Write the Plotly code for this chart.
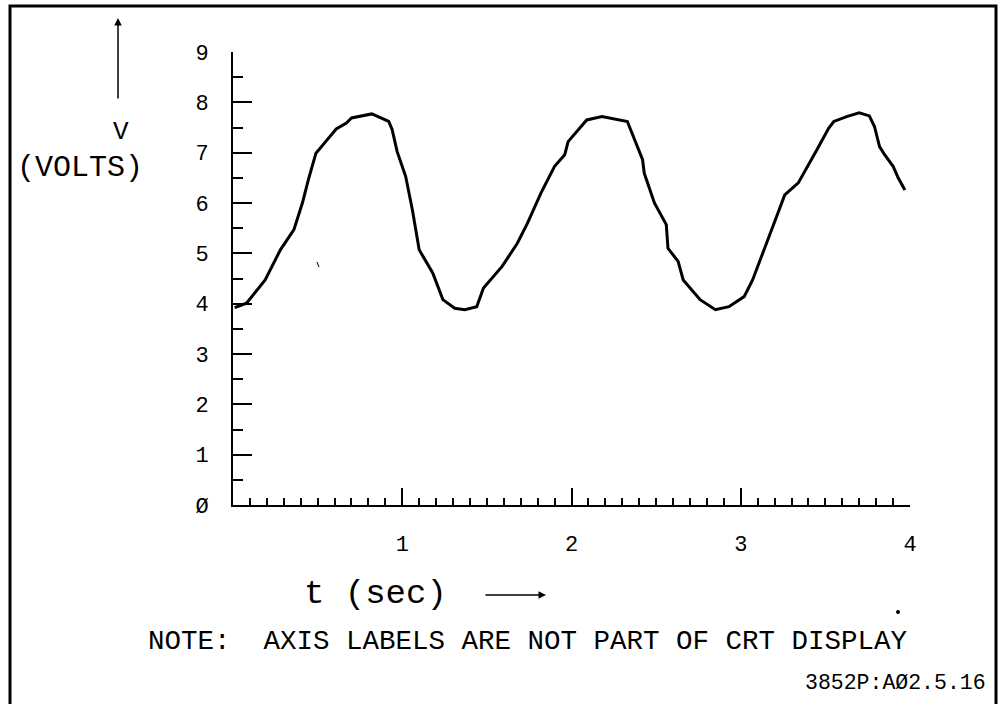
import plotly.graph_objects as go

# scope trace (seconds, volts)
t_sec = [0.01, 0.08, 0.19, 0.28, 0.36, 0.41, 0.445, 0.49, 0.54, 0.61, 0.67, 0.70,
         0.82, 0.92, 0.94, 0.97, 1.02, 1.06, 1.10, 1.18, 1.24, 1.31, 1.37, 1.44,
         1.48, 1.59, 1.68, 1.74, 1.82, 1.90, 1.96, 1.98, 2.09, 2.18, 2.33, 2.365,
         2.42, 2.43, 2.47, 2.49, 2.56, 2.57, 2.63, 2.66, 2.76, 2.85, 2.93, 3.02,
         3.07, 3.13, 3.17, 3.21, 3.26, 3.34, 3.39, 3.45, 3.52, 3.55, 3.63, 3.70,
         3.76, 3.79, 3.82, 3.85, 3.90, 3.93, 3.97]
volts = [3.92, 4.01, 4.47, 5.07, 5.47, 6.00, 6.46, 6.99, 7.19, 7.47, 7.59, 7.69,
         7.77, 7.62, 7.46, 7.02, 6.53, 5.86, 5.07, 4.61, 4.08, 3.91, 3.88, 3.94,
         4.31, 4.74, 5.20, 5.60, 6.20, 6.73, 6.96, 7.22, 7.65, 7.72, 7.62, 7.32,
         6.86, 6.59, 6.20, 6.00, 5.57, 5.10, 4.84, 4.47, 4.08, 3.88, 3.94, 4.14,
         4.47, 5.00, 5.37, 5.70, 6.16, 6.40, 6.69, 7.06, 7.49, 7.62, 7.72, 7.79,
         7.73, 7.52, 7.12, 6.96, 6.73, 6.50, 6.26]

x_ticks = [0, 1, 2, 3, 4]
x_tick_text = ["", "1", "2", "3", "4"]
y_ticks = [0, 1, 2, 3, 4, 5, 6, 7, 8, 9]
y_tick_text = ["Ø", "1", "2", "3", "4", "5", "6", "7", "8", "9"]

W, H = 1001, 704
ML, MR, MT, MB = 233, 91, 52, 199
PW = W - ML - MR
PH = H - MT - MB
FONT = "Liberation Mono"


def px(x):
    # page pixel column -> paper x
    return (x - ML) / PW


def py(y):
    # page pixel row -> paper y
    return (MT + PH - y) / PH


fig = go.Figure()
fig.add_trace(go.Scatter(
    x=t_sec, y=volts, mode="lines",
    line=dict(color="black", width=3),
    showlegend=False, hoverinfo="skip"
))

axis_common = dict(
    showgrid=False, zeroline=False, showline=True,
    linecolor="black", linewidth=2,
    ticks="inside", tickcolor="black", tickwidth=2,
    tickfont=dict(family=FONT, size=22, color="black"),
    tickmode="array",
)

fig.update_xaxes(
    range=[0, 4], tickvals=x_ticks, ticktext=x_tick_text,
    ticklen=17, ticklabelstandoff=18,
    minor=dict(ticks="inside", dtick=0.1, ticklen=7, tickwidth=1.5, tickcolor="black"),
    **axis_common
)
fig.update_yaxes(
    range=[0, 9], tickvals=y_ticks, ticktext=y_tick_text,
    ticklen=19, ticklabelstandoff=18,
    minor=dict(ticks="inside", dtick=0.5, ticklen=10, tickwidth=1.5, tickcolor="black"),
    **axis_common
)


def label(text, x, y, size, xanchor="center"):
    return dict(text=text, x=px(x), y=py(y), xanchor=xanchor, yanchor="middle",
                xref="paper", yref="paper", showarrow=False,
                font=dict(family=FONT, size=size, color="black"))


annotations = [
    label("V", 121, 132, 26),
    label("(VOLTS)", 80, 168, 30),
    label("t (sec)", 302, 594, 34, xanchor="left"),
    label("NOTE:  AXIS LABELS ARE NOT PART OF CRT DISPLAY", 146, 641, 27.5, xanchor="left"),
    label("3852P:AØ2.5.16", 988, 683, 21.5, xanchor="right"),
    # up arrow beside the V label
    dict(text="", x=px(118), y=py(18), xref="paper", yref="paper",
         showarrow=True, axref="pixel", ayref="pixel", ax=0, ay=82,
         arrowhead=2, arrowsize=1, arrowwidth=1.5, arrowcolor="black"),
    # right arrow after t (sec)
    dict(text="", x=px(546), y=py(595), xref="paper", yref="paper",
         showarrow=True, axref="pixel", ayref="pixel", ax=-62, ay=0,
         arrowhead=2, arrowsize=1, arrowwidth=1.5, arrowcolor="black"),
]

shapes = [
    # border of the scanned figure
    dict(type="rect", xref="paper", yref="paper",
         x0=px(10), x1=px(996), y0=py(720), y1=py(6),
         line=dict(color="black", width=3)),
    # scan specks
    dict(type="circle", xref="paper", yref="paper",
         x0=px(896), x1=px(900), y0=py(614), y1=py(610),
         fillcolor="black", line=dict(color="black", width=0)),
    dict(type="line", xref="paper", yref="paper",
         x0=px(317), x1=px(319), y0=py(262), y1=py(267),
         line=dict(color="black", width=1)),
]

fig.update_layout(
    width=W, height=H,
    margin=dict(l=ML, r=MR, t=MT, b=MB),
    paper_bgcolor="white", plot_bgcolor="white",
    annotations=annotations, shapes=shapes,
    showlegend=False,
)

# drop the default page margin so the figure fills the window exactly
fig.write_html("out.html", config={"displayModeBar": False},
               post_script="document.body.style.margin='0';"
                           "document.body.style.overflow='hidden';")
